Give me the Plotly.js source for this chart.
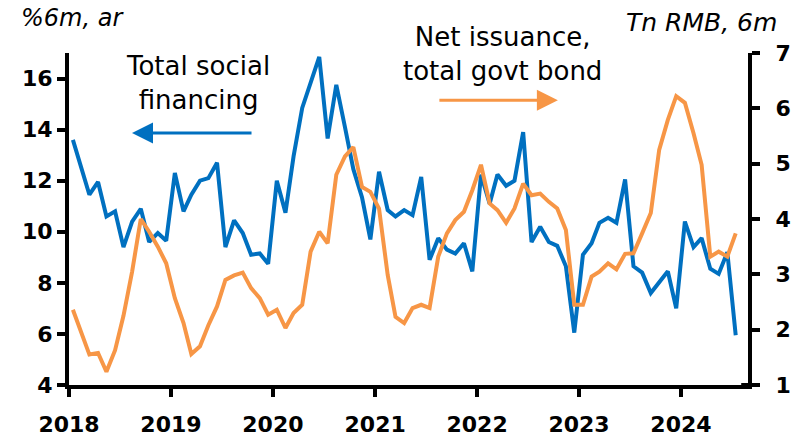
<!DOCTYPE html>
<html>
<head>
<meta charset="utf-8">
<script src="https://cdn.plot.ly/plotly-3.0.1.min.js"></script>
<style>html,body{margin:0;padding:0;background:#fff;}#chart{width:793px;height:438px;}</style>
</head>
<body>
<div id="chart"></div>
<script>
// Monthly observations, Jan 2018 .. Jul 2024
const startYear = 2018;
const nMonths = 79;
const months = [];
for (let i = 0; i < nMonths; i++) {
  const y = startYear + Math.floor(i / 12);
  const m = (i % 12) + 1;
  months.push(y + '-' + String(m).padStart(2, '0') + '-15');
}

// Total social financing, %6m annualised (left axis)
const tsf = [
  13.6, 12.5, 11.45, 11.95, 10.6, 10.8, 9.4, 10.4, 10.9, 9.6, 9.95, 9.65,
  12.3, 10.8, 11.45, 12.0, 12.1, 12.7, 9.4, 10.45, 9.95, 9.1, 9.15, 8.75,
  12.0, 10.75, 12.95, 14.85, 15.85, 16.85, 13.65, 15.75, 14.1, 12.45, 11.35, 9.7,
  12.35, 10.85, 10.6, 10.85, 10.65, 12.15, 8.9, 9.75, 9.3, 9.15, 9.55, 8.45,
  12.24, 11.1, 12.24, 11.8, 12.0, 13.9, 9.6, 10.2, 9.6, 9.45, 8.65, 6.05,
  9.1, 9.55, 10.35, 10.55, 10.35, 12.05, 8.65, 8.4, 7.6, 8.0, 8.45, 7.0,
  10.4, 9.4, 9.75, 8.55, 8.35, 9.2, 5.95
];

// Net issuance, total government bonds, Tn RMB 6m (right axis)
const govBond = [
  2.36, 1.95, 1.55, 1.58, 1.24, 1.63, 2.25, 3.05, 4.0, 3.77, 3.5, 3.2,
  2.57, 2.12, 1.56, 1.7, 2.08, 2.42, 2.9, 2.98, 3.03, 2.75, 2.57, 2.27,
  2.36, 2.03, 2.3, 2.45, 3.41, 3.77, 3.56, 4.8, 5.13, 5.3, 4.58, 4.49,
  4.19, 2.99, 2.23, 2.12, 2.39, 2.45, 2.39, 3.32, 3.74, 3.98, 4.13, 4.52,
  4.98, 4.28, 4.16, 3.93, 4.19, 4.64, 4.43, 4.46, 4.31, 4.19, 3.8, 2.45,
  2.45, 2.96, 3.05, 3.2, 3.09, 3.37, 3.38, 3.74, 4.11, 5.25, 5.79, 6.22,
  6.1, 5.55, 4.98, 3.32, 3.41, 3.32, 3.74
];

const xTickVals = ['2018-01-01','2019-01-01','2020-01-01','2021-01-01','2022-01-01','2023-01-01','2024-01-01'];
const xTickText = ['2018','2019','2020','2021','2022','2023','2024'];
const leftTicks = [4, 6, 8, 10, 12, 14, 16];
const rightTicks = [1, 2, 3, 4, 5, 6, 7];

const BLUE = '#0070C0';
const ORANGE = '#F79646';
const FONT = 'DejaVu Sans, Verdana, sans-serif';

const traces = [
  {x: months, y: govBond, yaxis: 'y2', type: 'scatter', mode: 'lines',
   line: {color: ORANGE, width: 4}, hoverinfo: 'skip'},
  {x: months, y: tsf, yaxis: 'y', type: 'scatter', mode: 'lines',
   line: {color: BLUE, width: 4}, hoverinfo: 'skip'}
];

const tickFont = {family: FONT, size: 22, color: '#000', weight: 'bold'};

const layout = {
  width: 793, height: 438,
  margin: {l: 69, r: 45, t: 53, b: 53},
  paper_bgcolor: '#fff', plot_bgcolor: '#fff',
  showlegend: false,
  xaxis: {
    type: 'date', range: ['2018-01-01', '2024-08-28'],
    tickvals: xTickVals, ticktext: xTickText,
    showgrid: false, zeroline: false,
    showline: true, linecolor: '#000', linewidth: 4,
    ticks: 'outside', ticklen: 8, tickwidth: 4, tickcolor: '#000',
    tickfont: tickFont, ticklabelstandoff: 9
  },
  yaxis: {
    range: [4, 17], tickvals: leftTicks,
    showgrid: false, zeroline: false,
    showline: true, linecolor: '#000', linewidth: 4,
    ticks: 'outside', ticklen: 8, tickwidth: 4, tickcolor: '#000',
    tickfont: tickFont
  },
  yaxis2: {
    range: [1, 7], tickvals: rightTicks, overlaying: 'y', side: 'right',
    showgrid: false, zeroline: false,
    showline: true, linecolor: '#000', linewidth: 4,
    ticks: 'outside', ticklen: 8, tickwidth: 4, tickcolor: '#000',
    tickfont: tickFont, ticklabelstandoff: 11
  },
  shapes: [
    {type: 'line', xref: 'paper', yref: 'paper', x0: 0.99, x1: 1.011, y0: 0, y1: 0,
     line: {color: '#000', width: 4}}
  ],
  annotations: [
    {xref: 'paper', yref: 'paper', x: -0.074, y: 1.105, xanchor: 'left', yanchor: 'middle',
     text: '<i>%6m, ar</i>', showarrow: false, font: {family: FONT, size: 24, color: '#000'}},
    {xref: 'paper', yref: 'paper', x: 1.046, y: 1.093, xanchor: 'right', yanchor: 'middle',
     text: '<i>Tn RMB, 6m</i>', showarrow: false, font: {family: FONT, size: 25, color: '#000'}},
    {xref: 'paper', yref: 'paper', x: 0.19, y: 0.911, xanchor: 'center', yanchor: 'middle',
     text: 'Total social<br>financing', showarrow: false, align: 'center',
     font: {family: FONT, size: 26, color: '#000'}},
    {xref: 'paper', yref: 'paper', x: 0.638, y: 0.998, xanchor: 'center', yanchor: 'middle',
     text: 'Net issuance,<br>total govt bond', showarrow: false, align: 'center',
     font: {family: FONT, size: 26, color: '#000'}},
    {xref: 'paper', yref: 'paper', x: 0.0928, y: 0.759, text: '', showarrow: true,
     ax: 121, ay: 0, arrowhead: 2, arrowsize: 1.4, arrowwidth: 3, arrowcolor: BLUE},
    {xref: 'paper', yref: 'paper', x: 0.720, y: 0.858, text: '', showarrow: true,
     ax: -120, ay: 0, arrowhead: 2, arrowsize: 1.4, arrowwidth: 3, arrowcolor: ORANGE}
  ]
};

Plotly.newPlot('chart', traces, layout, {staticPlot: true, displayModeBar: false});
</script>
</body>
</html>
